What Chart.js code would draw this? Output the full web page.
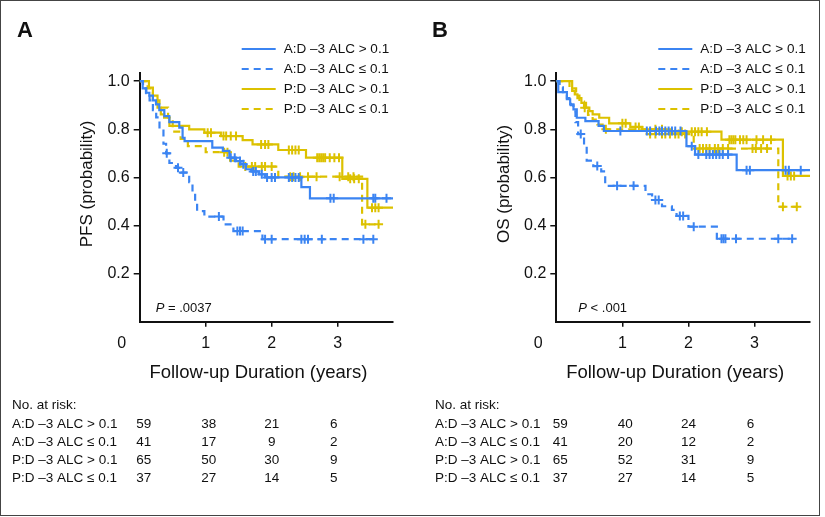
<!DOCTYPE html>
<html>
<head>
<meta charset="utf-8">
<script src="https://cdn.jsdelivr.net/npm/chart.js@4.4.1/dist/chart.umd.min.js"></script>
<style>
  body { margin: 0; background: #fff; }
  #wrap { position: relative; width: 825px; height: 517px; }
  #frame { position: absolute; left: 0; top: 0; width: 818px; height: 514px; border: 1px solid #444; }
  canvas { position: absolute; top: 0; }
</style>
</head>
<body>
<div id="wrap">
  <canvas id="pfs" width="412" height="517" style="left:0"></canvas>
  <canvas id="os" width="413" height="517" style="left:412px"></canvas>
  <div id="frame"></div>
</div>
<script>
// group names
const groups = ['A:D \u20133 ALC > 0.1', 'A:D \u20133 ALC \u2264 0.1', 'P:D \u20133 ALC > 0.1', 'P:D \u20133 ALC \u2264 0.1'];
const riskYears = [0, 1, 2, 3];

// Panel A - PFS, step times (years) and survival
const pfsAhiT = [0, 0.045, 0.095, 0.146, 0.2, 0.247, 0.297, 0.373, 0.449, 0.6, 0.65, 0.68, 1.1, 1.26, 1.36, 1.46, 1.53, 1.61, 1.69, 1.81, 1.9, 2.45, 2.58, 3.84];
const pfsAhiS = [1, 0.97, 0.952, 0.94, 0.92, 0.904, 0.88, 0.855, 0.83, 0.807, 0.765, 0.751, 0.724, 0.71, 0.682, 0.668, 0.655, 0.634, 0.625, 0.613, 0.6, 0.56, 0.513, 0.513];
const pfsAhiC = [1.38, 1.44, 1.52, 1.57, 1.72, 1.76, 1.85, 1.93, 2.0, 2.05, 2.26, 2.31, 2.36, 2.41, 2.89, 2.94, 3.54, 3.57, 3.74];

const pfsAloT = [0, 0.05, 0.1, 0.15, 0.2, 0.25, 0.3, 0.36, 0.4, 0.45, 0.55, 0.62, 0.75, 0.8, 0.84, 0.87, 0.98, 1.27, 1.42, 1.86, 3.55];
const pfsAloS = [1, 0.97, 0.95, 0.92, 0.88, 0.85, 0.8, 0.74, 0.7, 0.66, 0.64, 0.62, 0.58, 0.54, 0.5, 0.46, 0.437, 0.405, 0.377, 0.343, 0.343];
const pfsAloC = [0.41, 0.58, 0.66, 1.2, 1.48, 1.52, 1.56, 1.9, 2.0, 2.45, 2.5, 2.55, 2.76, 3.39, 3.54];

const pfsPhiT = [0, 0.14, 0.2, 0.27, 0.32, 0.37, 0.45, 0.75, 0.98, 1.23, 1.56, 1.71, 2.1, 2.52, 3.07, 3.45, 3.84];
const pfsPhiS = [1, 0.973, 0.94, 0.89, 0.862, 0.848, 0.814, 0.8, 0.786, 0.772, 0.755, 0.737, 0.714, 0.682, 0.594, 0.474, 0.474];
const pfsPhiC = [1.03, 1.08, 1.27, 1.31, 1.38, 1.46, 1.84, 1.9, 1.95, 2.26, 2.31, 2.36, 2.41, 2.69, 2.72, 2.75, 2.78, 2.81, 2.88, 2.95, 3.02, 3.19, 3.25, 3.32, 3.52, 3.57, 3.62];

const pfsPloT = [0, 0.12, 0.2, 0.3, 0.43, 0.5, 0.62, 0.73, 1.0, 1.37, 1.5, 2.1, 3.37, 3.65];
const pfsPloS = [1, 0.97, 0.92, 0.89, 0.85, 0.79, 0.76, 0.73, 0.705, 0.67, 0.645, 0.603, 0.405, 0.405];
const pfsPloC = [1.28, 1.33, 1.6, 1.7, 1.75, 1.85, 1.9, 2.0, 2.28, 2.33, 2.43, 2.55, 2.68, 3.03, 3.16, 3.24, 3.42, 3.62];

const pfsRisk = [[59, 38, 21, 6], [41, 17, 9, 2], [65, 50, 30, 9], [37, 27, 14, 5]];

// Panel B - OS
const osAhiT = [0, 0.03, 0.16, 0.21, 0.26, 0.31, 0.44, 0.64, 0.72, 1.97, 2.1, 2.73, 3.84];
const osAhiS = [1, 0.955, 0.925, 0.904, 0.883, 0.848, 0.834, 0.814, 0.793, 0.73, 0.695, 0.63, 0.63];
const osAhiC = [0.97, 1.37, 1.42, 1.51, 1.56, 1.6, 1.65, 1.7, 1.75, 1.8, 1.88, 2.05, 2.15, 2.27, 2.32, 2.37, 2.42, 2.47, 2.52, 2.6, 2.88, 2.93, 3.47, 3.52, 3.7];

const osAloT = [0, 0.05, 0.1, 0.16, 0.22, 0.26, 0.29, 0.33, 0.42, 0.46, 0.56, 0.68, 0.74, 1.35, 1.45, 1.6, 1.75, 1.82, 2.0, 2.43, 3.57];
const osAloS = [1, 0.975, 0.955, 0.93, 0.9, 0.875, 0.83, 0.78, 0.73, 0.67, 0.647, 0.625, 0.565, 0.53, 0.506, 0.48, 0.465, 0.44, 0.395, 0.345, 0.345];
const osAloC = [0.37, 0.62, 0.92, 1.17, 1.5, 1.55, 1.87, 1.92, 2.08, 2.5, 2.53, 2.56, 2.72, 3.36, 3.57];

const osPhiT = [0, 0.24, 0.28, 0.32, 0.38, 0.45, 0.5, 0.55, 0.65, 0.8, 1.12, 1.3, 1.75, 2.5, 3.43, 3.84];
const osPhiS = [1, 0.96, 0.945, 0.93, 0.91, 0.89, 0.876, 0.862, 0.848, 0.825, 0.81, 0.8, 0.79, 0.757, 0.606, 0.606];
const osPhiC = [1.0, 1.05, 1.2, 1.25, 1.5, 1.6, 1.9, 2.05, 2.1, 2.15, 2.2, 2.28, 2.62, 2.65, 2.68, 2.71, 2.78, 2.83, 2.88, 3.03, 3.13, 3.25, 3.5, 3.55, 3.6];

const osPloT = [0, 0.2, 0.3, 0.35, 0.42, 0.48, 0.55, 0.62, 0.7, 1.35, 2.08, 3.36, 3.72];
const osPloS = [1, 0.97, 0.94, 0.915, 0.89, 0.86, 0.84, 0.82, 0.8, 0.78, 0.72, 0.478, 0.478];
const osPloC = [0.43, 0.75, 1.42, 1.5, 1.6, 1.65, 1.72, 1.8, 1.85, 1.95, 2.17, 2.22, 2.27, 2.32, 2.4, 2.45, 2.52, 2.6, 2.97, 3.02, 3.1, 3.19, 3.43, 3.64];

const osRisk = [[59, 40, 24, 6], [41, 20, 12, 2], [65, 52, 31, 9], [37, 27, 14, 5]];

const BLUE = '#3b84f2';
const GOLD = '#dcc100';
const FONT = 'Liberation Sans, Arial, Helvetica, sans-serif';
const colors = [BLUE, BLUE, GOLD, GOLD];
const dashes = [[], [7, 5], [], [7, 5]];

function survAt(times, surv, t) {
  let s = surv[0];
  for (let i = 0; i < times.length; i++) {
    if (times[i] <= t) s = surv[i];
  }
  return s;
}

function buildDatasets(curves) {
  const sets = [];
  curves.forEach((c, i) => {
    sets.push({
      label: groups[i],
      data: c.t.map((t, k) => ({ x: t, y: c.s[k] })),
      stepped: true,
      borderColor: colors[i],
      borderDash: dashes[i],
      borderWidth: 2.2,
      pointRadius: 0,
      fill: false
    });
    sets.push({
      label: groups[i] + ' censored',
      data: c.c.map(t => ({ x: t, y: survAt(c.t, c.s, t) })),
      showLine: false,
      pointStyle: 'cross',
      pointRadius: 4.5,
      borderColor: colors[i],
      borderWidth: 2
    });
  });
  return sets;
}

function makePanel(id, opts) {
  const textPlugin = {
    id: 'panelText',
    afterDraw(chart) {
      const ctx = chart.ctx;
      const xs = chart.scales.x;
      const area = chart.chartArea;
      ctx.save();
      ctx.fillStyle = '#111';

      // corner zero, same look as the ticks
      ctx.font = '16px ' + FONT;
      ctx.textAlign = 'center';
      ctx.textBaseline = 'middle';
      ctx.fillText('0', area.left - 18, 344);

      // panel letter
      ctx.font = 'bold 22px ' + FONT;
      ctx.textAlign = 'left';
      ctx.textBaseline = 'alphabetic';
      ctx.fillText(opts.letter, opts.letterX, 37);

      // legend
      ctx.font = '13.5px ' + FONT;
      ctx.textBaseline = 'middle';
      groups.forEach((g, i) => {
        const y = 49 + i * 20;
        const x0 = area.left + 102;
        ctx.strokeStyle = colors[i];
        ctx.lineWidth = 2.2;
        ctx.setLineDash(dashes[i]);
        ctx.beginPath();
        ctx.moveTo(x0, y);
        ctx.lineTo(x0 + 34, y);
        ctx.stroke();
        ctx.setLineDash([]);
        ctx.fillText(g, x0 + 42, y + 0.5);
      });

      // y title
      ctx.save();
      ctx.translate(area.left - 52, 184);
      ctx.rotate(-Math.PI / 2);
      ctx.font = '17px ' + FONT;
      ctx.textAlign = 'center';
      ctx.fillText(opts.yTitle, 0, 0);
      ctx.restore();

      // x title
      ctx.font = '18.5px ' + FONT;
      ctx.textAlign = 'center';
      ctx.fillText('Follow-up Duration (years)', (area.left + area.right) / 2 - 8, 373);

      // p value
      ctx.textAlign = 'left';
      ctx.textBaseline = 'alphabetic';
      ctx.font = 'italic 13px ' + FONT;
      const px = area.left + opts.pX;
      ctx.fillText('P', px, 312);
      const pw = ctx.measureText('P').width;
      ctx.font = '13px ' + FONT;
      ctx.fillText(opts.pText, px + pw, 312);

      // risk table
      ctx.font = '13.5px ' + FONT;
      ctx.textBaseline = 'middle';
      ctx.fillText('No. at risk:', opts.tableX, 405);
      const offs = [4, 3, 0, -4];
      opts.risk.forEach((row, r) => {
        const y = 424 + r * 18;
        ctx.textAlign = 'left';
        ctx.fillText(groups[r], opts.tableX, y);
        ctx.textAlign = 'center';
        row.forEach((n, k) => {
          ctx.fillText(String(n), xs.getPixelForValue(riskYears[k]) + offs[k], y);
        });
      });
      ctx.restore();
    }
  };

  return new Chart(document.getElementById(id), {
    type: 'line',
    data: { datasets: buildDatasets(opts.curves) },
    options: {
      responsive: false,
      animation: false,
      devicePixelRatio: 1,
      layout: { padding: { left: 0, right: opts.padRight, top: 72.8, bottom: 165.3 } },
      plugins: { legend: { display: false }, tooltip: { enabled: false } },
      scales: {
        x: {
          type: 'linear',
          min: 0,
          max: 3.84,
          afterBuildTicks: s => { s.ticks = [1, 2, 3].map(v => ({ value: v })); },
          afterFit: s => { s.height = 30; },
          ticks: { color: '#111', font: { size: 16, family: FONT }, padding: 7, callback: v => String(v) },
          grid: { drawOnChartArea: false, tickLength: 5, color: '#111', lineWidth: 1.5 },
          border: { display: true, color: '#111', width: 2 }
        },
        y: {
          type: 'linear',
          min: 0,
          max: 1.035,
          afterBuildTicks: s => { s.ticks = [0.2, 0.4, 0.6, 0.8, 1.0].map(v => ({ value: v })); },
          afterFit: s => { s.width = opts.yWidth; },
          ticks: { color: '#111', font: { size: 16, family: FONT }, padding: 4, callback: v => v.toFixed(1) },
          grid: { drawOnChartArea: false, tickLength: 6, color: '#111', lineWidth: 1.5 },
          border: { display: true, color: '#111', width: 2 }
        }
      }
    },
    plugins: [textPlugin]
  });
}

makePanel('pfs', {
  letter: 'A', letterX: 17, yTitle: 'PFS (probability)', pText: ' = .0037', pX: 16,
  tableX: 12, yWidth: 139.7, padRight: 18.9, risk: pfsRisk,
  curves: [
    { t: pfsAhiT, s: pfsAhiS, c: pfsAhiC },
    { t: pfsAloT, s: pfsAloS, c: pfsAloC },
    { t: pfsPhiT, s: pfsPhiS, c: pfsPhiC },
    { t: pfsPloT, s: pfsPloS, c: pfsPloC }
  ]
});

makePanel('os', {
  letter: 'B', letterX: 20, yTitle: 'OS (probability)', pText: ' < .001', pX: 22,
  tableX: 23, yWidth: 144.3, padRight: 15, risk: osRisk,
  curves: [
    { t: osAhiT, s: osAhiS, c: osAhiC },
    { t: osAloT, s: osAloS, c: osAloC },
    { t: osPhiT, s: osPhiS, c: osPhiC },
    { t: osPloT, s: osPloS, c: osPloC }
  ]
});
</script>
</body>
</html>
